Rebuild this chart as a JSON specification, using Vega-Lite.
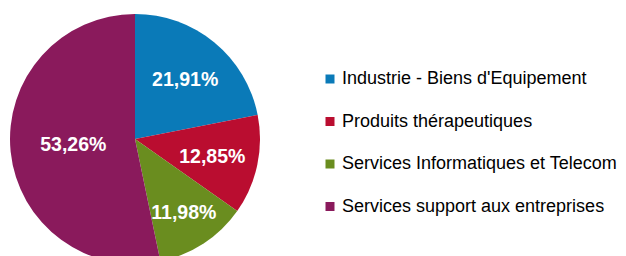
{
  "$schema": "https://vega.github.io/schema/vega-lite/v6.json",
  "width": 270,
  "height": 278,
  "padding": 0,
  "autosize": {"type": "pad"},
  "background": "white",
  "config": {"view": {"stroke": null}, "font": "Liberation Sans"},
  "data": {"values": [
    {"secteur": "Industrie - Biens d'Equipement", "part": 21.91, "label": "21,91%", "ordre": 1},
    {"secteur": "Produits thérapeutiques", "part": 12.85, "label": "12,85%", "ordre": 2},
    {"secteur": "Services Informatiques et Telecom", "part": 11.98, "label": "11,98%", "ordre": 3},
    {"secteur": "Services support aux entreprises", "part": 53.26, "label": "53,26%", "ordre": 4}
  ]},
  "encoding": {
    "theta": {"field": "part", "type": "quantitative", "stack": true},
    "order": {"field": "ordre", "type": "quantitative"},
    "color": {
      "field": "secteur", "type": "nominal",
      "sort": ["Industrie - Biens d'Equipement", "Produits thérapeutiques", "Services Informatiques et Telecom", "Services support aux entreprises"],
      "scale": {
        "domain": ["Industrie - Biens d'Equipement", "Produits thérapeutiques", "Services Informatiques et Telecom", "Services support aux entreprises"],
        "range": ["#0A7AB8", "#BA0D30", "#6A8D1F", "#8A1A5C"]
      },
      "legend": {
        "title": null,
        "orient": "none",
        "legendX": 321,
        "legendY": 70,
        "symbolType": "square",
        "symbolSize": 81,
        "symbolStrokeWidth": 0,
        "labelFontSize": 18,
        "labelFont": "Liberation Sans",
        "labelColor": "#000000",
        "labelOffset": 3,
        "rowPadding": 24.5,
        "labelLimit": 400
      }
    }
  },
  "layer": [
    {"mark": {"type": "arc", "outerRadius": 125}},
    {
      "mark": {"type": "text", "radius": 79, "dy": 2, "fontSize": 19.5, "fontWeight": "bold", "fill": "white", "font": "Liberation Sans"},
      "encoding": {
        "text": {"condition": {"test": "datum.ordre <= 2", "field": "label"}, "value": ""},
        "color": {"value": "white"}
      }
    },
    {
      "mark": {"type": "text", "radius": 89, "fontSize": 19.5, "fontWeight": "bold", "fill": "white", "font": "Liberation Sans"},
      "encoding": {
        "text": {"condition": {"test": "datum.ordre == 3", "field": "label"}, "value": ""},
        "color": {"value": "white"}
      }
    },
    {
      "mark": {"type": "text", "radius": 62, "fontSize": 19.5, "fontWeight": "bold", "fill": "white", "font": "Liberation Sans"},
      "encoding": {
        "text": {"condition": {"test": "datum.ordre == 4", "field": "label"}, "value": ""},
        "color": {"value": "white"}
      }
    }
  ]
}
